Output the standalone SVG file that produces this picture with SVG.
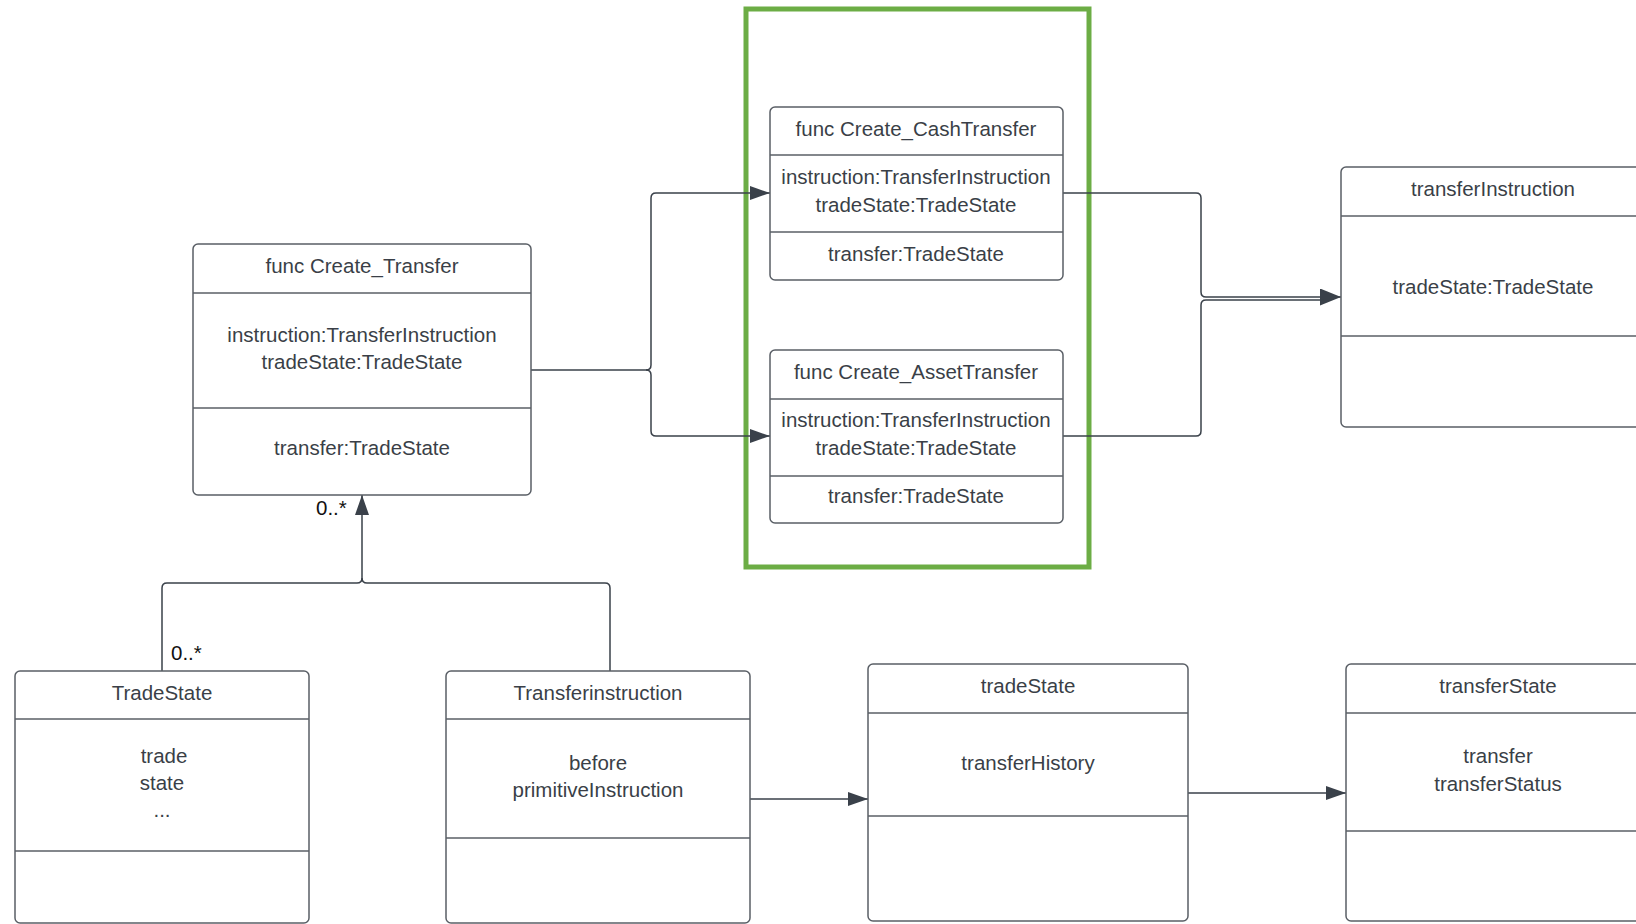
<svg xmlns="http://www.w3.org/2000/svg" width="1636" height="924" viewBox="0 0 1636 924">
  <style>
    .box { fill: #ffffff; stroke: #5a5f66; stroke-width: 1.5; }
    .div { stroke: #5a5f66; stroke-width: 1.5; }
    .txt { font-family: "Liberation Sans", Arial, sans-serif; font-size: 20.5px; fill: #3a3f47; text-anchor: middle; }
    .mult { font-family: "Liberation Sans", Arial, sans-serif; font-size: 20.5px; fill: #111111; }
    .wire { fill: none; stroke: #3a414a; stroke-width: 1.5; }
    .frame { fill: none; stroke: #6cad45; stroke-width: 5; }
  </style>
  <defs>
    <marker id="arrow" viewBox="0 0 20 14" refX="20" refY="7" markerWidth="20" markerHeight="14" markerUnits="userSpaceOnUse" orient="auto">
      <path d="M0,0 L20,7 L0,14 z" fill="#3a414a"/>
    </marker>
    <marker id="arrow-lg" viewBox="0 0 21 17" refX="21" refY="8.5" markerWidth="21" markerHeight="17" markerUnits="userSpaceOnUse" orient="auto">
      <path d="M0,0 L21,8.5 L0,17 z" fill="#3a414a"/>
    </marker>
  </defs>

  <rect width="1636" height="924" fill="#ffffff"/>

  <!-- highlight frame around the specialised functions -->
  <rect class="frame" x="746" y="9" width="343" height="558"/>

  <g id="connectors">
    <!-- Create_Transfer fans out to the two specialised functions -->
    <path class="wire" d="M531,370 H646 Q651,370 651,365 V198 Q651,193 656,193 H770" marker-end="url(#arrow)"/>
    <path class="wire" d="M646,370 Q651,370 651,375 V431 Q651,436 656,436 H770" marker-end="url(#arrow)"/>
    <!-- both functions feed transferInstruction -->
    <path class="wire" d="M1063,193 H1196 Q1201,193 1201,198 V292 Q1201,297 1206,297 H1341" marker-end="url(#arrow-lg)"/>
    <path class="wire" d="M1063,436 H1196 Q1201,436 1201,431 V305 Q1201,300 1206,300 H1324"/>
    <!-- TradeState and Transferinstruction aggregate into Create_Transfer -->
    <path class="wire" d="M162,671 V588 Q162,583 167,583 H357 Q362,583 362,578 V495" marker-end="url(#arrow)"/>
    <path class="wire" d="M610,671 V588 Q610,583 605,583 H367 Q362,583 362,578"/>
    <!-- Transferinstruction to tradeState -->
    <path class="wire" d="M750,799 H868" marker-end="url(#arrow)"/>
    <!-- tradeState to transferState -->
    <path class="wire" d="M1188,793 H1346" marker-end="url(#arrow)"/>
    <text class="mult" x="316" y="515">0..*</text>
    <text class="mult" x="171" y="660">0..*</text>
  </g>

  <g id="create-transfer">
    <rect class="box" x="193" y="244" width="338" height="251" rx="5"/>
    <line class="div" x1="193" y1="293" x2="531" y2="293"/>
    <line class="div" x1="193" y1="408" x2="531" y2="408"/>
    <text class="txt" x="362" y="273">func Create_Transfer</text>
    <text class="txt" x="362" y="342">instruction:TransferInstruction</text>
    <text class="txt" x="362" y="369">tradeState:TradeState</text>
    <text class="txt" x="362" y="455">transfer:TradeState</text>
  </g>

  <g id="create-cash-transfer">
    <rect class="box" x="770" y="107" width="293" height="173" rx="5"/>
    <line class="div" x1="770" y1="155" x2="1063" y2="155"/>
    <line class="div" x1="770" y1="232" x2="1063" y2="232"/>
    <text class="txt" x="916" y="136">func Create_CashTransfer</text>
    <text class="txt" x="916" y="184">instruction:TransferInstruction</text>
    <text class="txt" x="916" y="212">tradeState:TradeState</text>
    <text class="txt" x="916" y="261">transfer:TradeState</text>
  </g>

  <g id="create-asset-transfer">
    <rect class="box" x="770" y="350" width="293" height="173" rx="5"/>
    <line class="div" x1="770" y1="399" x2="1063" y2="399"/>
    <line class="div" x1="770" y1="476" x2="1063" y2="476"/>
    <text class="txt" x="916" y="379">func Create_AssetTransfer</text>
    <text class="txt" x="916" y="427">instruction:TransferInstruction</text>
    <text class="txt" x="916" y="455">tradeState:TradeState</text>
    <text class="txt" x="916" y="503">transfer:TradeState</text>
  </g>

  <g id="transfer-instruction-out">
    <rect class="box" x="1341" y="167" width="320" height="260" rx="5"/>
    <line class="div" x1="1341" y1="216" x2="1661" y2="216"/>
    <line class="div" x1="1341" y1="336" x2="1661" y2="336"/>
    <text class="txt" x="1493" y="196">transferInstruction</text>
    <text class="txt" x="1493" y="294">tradeState:TradeState</text>
  </g>

  <g id="trade-state-class">
    <rect class="box" x="15" y="671" width="294" height="252" rx="5"/>
    <line class="div" x1="15" y1="719" x2="309" y2="719"/>
    <line class="div" x1="15" y1="851" x2="309" y2="851"/>
    <text class="txt" x="162" y="700">TradeState</text>
    <text class="txt" x="164" y="763">trade</text>
    <text class="txt" x="162" y="790">state</text>
    <text class="txt" x="162" y="817">...</text>
  </g>

  <g id="transfer-instruction-class">
    <rect class="box" x="446" y="671" width="304" height="252" rx="5"/>
    <line class="div" x1="446" y1="719" x2="750" y2="719"/>
    <line class="div" x1="446" y1="838" x2="750" y2="838"/>
    <text class="txt" x="598" y="700">Transferinstruction</text>
    <text class="txt" x="598" y="770">before</text>
    <text class="txt" x="598" y="797">primitiveInstruction</text>
  </g>

  <g id="trade-state">
    <rect class="box" x="868" y="664" width="320" height="257" rx="5"/>
    <line class="div" x1="868" y1="713" x2="1188" y2="713"/>
    <line class="div" x1="868" y1="816" x2="1188" y2="816"/>
    <text class="txt" x="1028" y="693">tradeState</text>
    <text class="txt" x="1028" y="770">transferHistory</text>
  </g>

  <g id="transfer-state">
    <rect class="box" x="1346" y="664" width="320" height="257" rx="5"/>
    <line class="div" x1="1346" y1="713" x2="1666" y2="713"/>
    <line class="div" x1="1346" y1="831" x2="1666" y2="831"/>
    <text class="txt" x="1498" y="693">transferState</text>
    <text class="txt" x="1498" y="763">transfer</text>
    <text class="txt" x="1498" y="791">transferStatus</text>
  </g>
</svg>
